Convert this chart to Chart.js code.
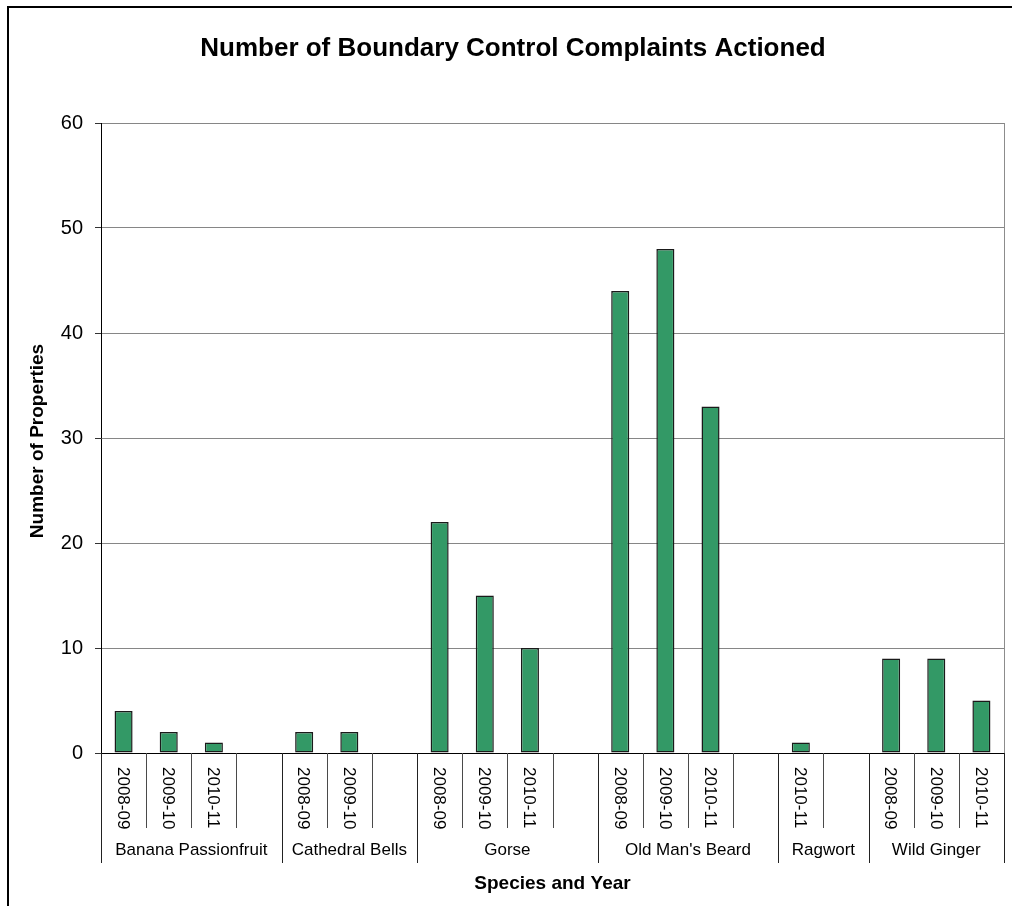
<!DOCTYPE html>
<html>
<head>
<meta charset="utf-8">
<script src="https://cdn.jsdelivr.net/npm/chart.js@4.4.1/dist/chart.umd.min.js"></script>
<style>
  html, body { margin: 0; padding: 0; background: #ffffff; }
  canvas { display: block; }
</style>
</head>
<body>
<canvas id="chart" width="1012" height="906"></canvas>
<script>
// Species groups along the category axis
const speciesNames = ['Banana Passionfruit', 'Cathedral Bells', 'Gorse', "Old Man's Beard", 'Ragwort', 'Wild Ginger'];
// Year slots within each species group ('' = empty spacer slot)
const speciesYears = [
  ['2008-09', '2009-10', '2010-11', ''],
  ['2008-09', '2009-10', ''],
  ['2008-09', '2009-10', '2010-11', ''],
  ['2008-09', '2009-10', '2010-11', ''],
  ['2010-11', ''],
  ['2008-09', '2009-10', '2010-11']
];
// Number of properties per slot (null = no bar)
const speciesCounts = [
  [4, 2, 1, null],
  [2, 2, null],
  [22, 15, 10, null],
  [44, 48, 33, null],
  [1, null],
  [9, 9, 5]
];
const yTickValues = [0, 10, 20, 30, 40, 50, 60];

const chartTitle = 'Number of Boundary Control Complaints Actioned';
const xAxisTitle = 'Species and Year';
const yAxisTitle = 'Number of Properties';

// Flatten the two-level category structure
const slotLabels = [];
const slotValues = [];
const groupRanges = [];
speciesYears.forEach((years, g) => {
  const start = slotLabels.length;
  years.forEach((y, i) => {
    slotLabels.push(y);
    slotValues.push(speciesCounts[g][i]);
  });
  groupRanges.push({ name: speciesNames[g], start: start, end: slotLabels.length - 1 });
});

const FONT = '"Liberation Sans", Arial, Helvetica, sans-serif';

// Draws the frame, chart title, axis titles and the grouped category axis
const decorations = {
  id: 'decorations',
  beforeDraw(chart) {
    const ctx = chart.ctx;
    ctx.save();
    ctx.fillStyle = '#ffffff';
    ctx.fillRect(0, 0, chart.width, chart.height);
    ctx.strokeStyle = '#000000';
    ctx.lineWidth = 2;
    ctx.strokeRect(8, 7, chart.width + 20, chart.height + 20);
    ctx.restore();
  },
  afterDraw(chart) {
    const ctx = chart.ctx;
    const area = chart.chartArea;
    const xs = chart.scales.x;
    const n = slotLabels.length;
    const slotW = (area.right - area.left) / n;
    const edge = i => Math.round(area.left + i * slotW) + 0.5;

    ctx.save();

    // plot area right border
    ctx.strokeStyle = '#8c8c8c';
    ctx.lineWidth = 1;
    ctx.beginPath();
    ctx.moveTo(Math.round(area.right) + 0.5, area.top);
    ctx.lineTo(Math.round(area.right) + 0.5, area.bottom);
    ctx.stroke();

    // separators between year slots and between species groups
    const groupEdges = new Set();
    groupRanges.forEach(r => { groupEdges.add(r.start); groupEdges.add(r.end + 1); });
    for (let i = 0; i <= n; i++) {
      const isGroup = groupEdges.has(i);
      ctx.strokeStyle = isGroup ? '#222222' : '#4a4a4a';
      ctx.beginPath();
      ctx.moveTo(edge(i), area.bottom);
      ctx.lineTo(edge(i), isGroup ? area.bottom + 110 : area.bottom + 75);
      ctx.stroke();
    }

    // year labels, rotated to read downward
    ctx.fillStyle = '#000000';
    ctx.font = '17px ' + FONT;
    ctx.textAlign = 'left';
    ctx.textBaseline = 'middle';
    slotLabels.forEach((lab, i) => {
      if (!lab) return;
      const x = xs.getPixelForValue(i);
      ctx.save();
      ctx.translate(x, area.bottom + 14);
      ctx.rotate(Math.PI / 2);
      ctx.fillText(lab, 0, 1);
      ctx.restore();
    });

    // species group labels
    ctx.textAlign = 'center';
    groupRanges.forEach(r => {
      const cx = (area.left + r.start * slotW + area.left + (r.end + 1) * slotW) / 2;
      ctx.fillText(r.name, cx, area.bottom + 97);
    });

    // axis titles
    ctx.font = 'bold 19px ' + FONT;
    ctx.fillText(xAxisTitle, (area.left + area.right) / 2, area.bottom + 131);
    ctx.save();
    ctx.translate(38, (area.top + area.bottom) / 2 + 3);
    ctx.rotate(-Math.PI / 2);
    ctx.fillText(yAxisTitle, 0, 0);
    ctx.restore();

    // chart title
    ctx.font = 'bold 26px ' + FONT;
    ctx.fillText(chartTitle, 513, 49);

    ctx.restore();
  }
};

new Chart(document.getElementById('chart'), {
  type: 'bar',
  data: {
    labels: slotLabels,
    datasets: [{
      data: slotValues,
      backgroundColor: '#339966',
      borderColor: '#1a1a1a',
      borderWidth: 1.5,
      borderSkipped: false,
      barPercentage: 0.4,
      categoryPercentage: 1.0
    }]
  },
  options: {
    responsive: false,
    animation: false,
    devicePixelRatio: 1,
    layout: { padding: { top: 123, right: 8, bottom: 0, left: 0 } },
    plugins: {
      legend: { display: false },
      title: { display: false },
      tooltip: { enabled: false }
    },
    scales: {
      x: {
        type: 'category',
        offset: true,
        grid: { display: false, drawTicks: false },
        ticks: { display: false },
        border: { display: true, color: '#000000', width: 1 },
        afterFit(scale) { scale.height = 153; }
      },
      y: {
        min: yTickValues[0],
        max: yTickValues[yTickValues.length - 1],
        afterBuildTicks(scale) { scale.ticks = yTickValues.map(v => ({ value: v })); },
        ticks: {
          color: '#000000',
          font: { family: FONT, size: 20 },
          padding: 12
        },
        grid: {
          color: '#868686',
          tickColor: '#333333',
          tickLength: 6,
          lineWidth: 1
        },
        border: { display: true, color: '#000000', width: 1 },
        afterFit(scale) { scale.width = 101; }
      }
    }
  },
  plugins: [decorations]
});
</script>
</body>
</html>
